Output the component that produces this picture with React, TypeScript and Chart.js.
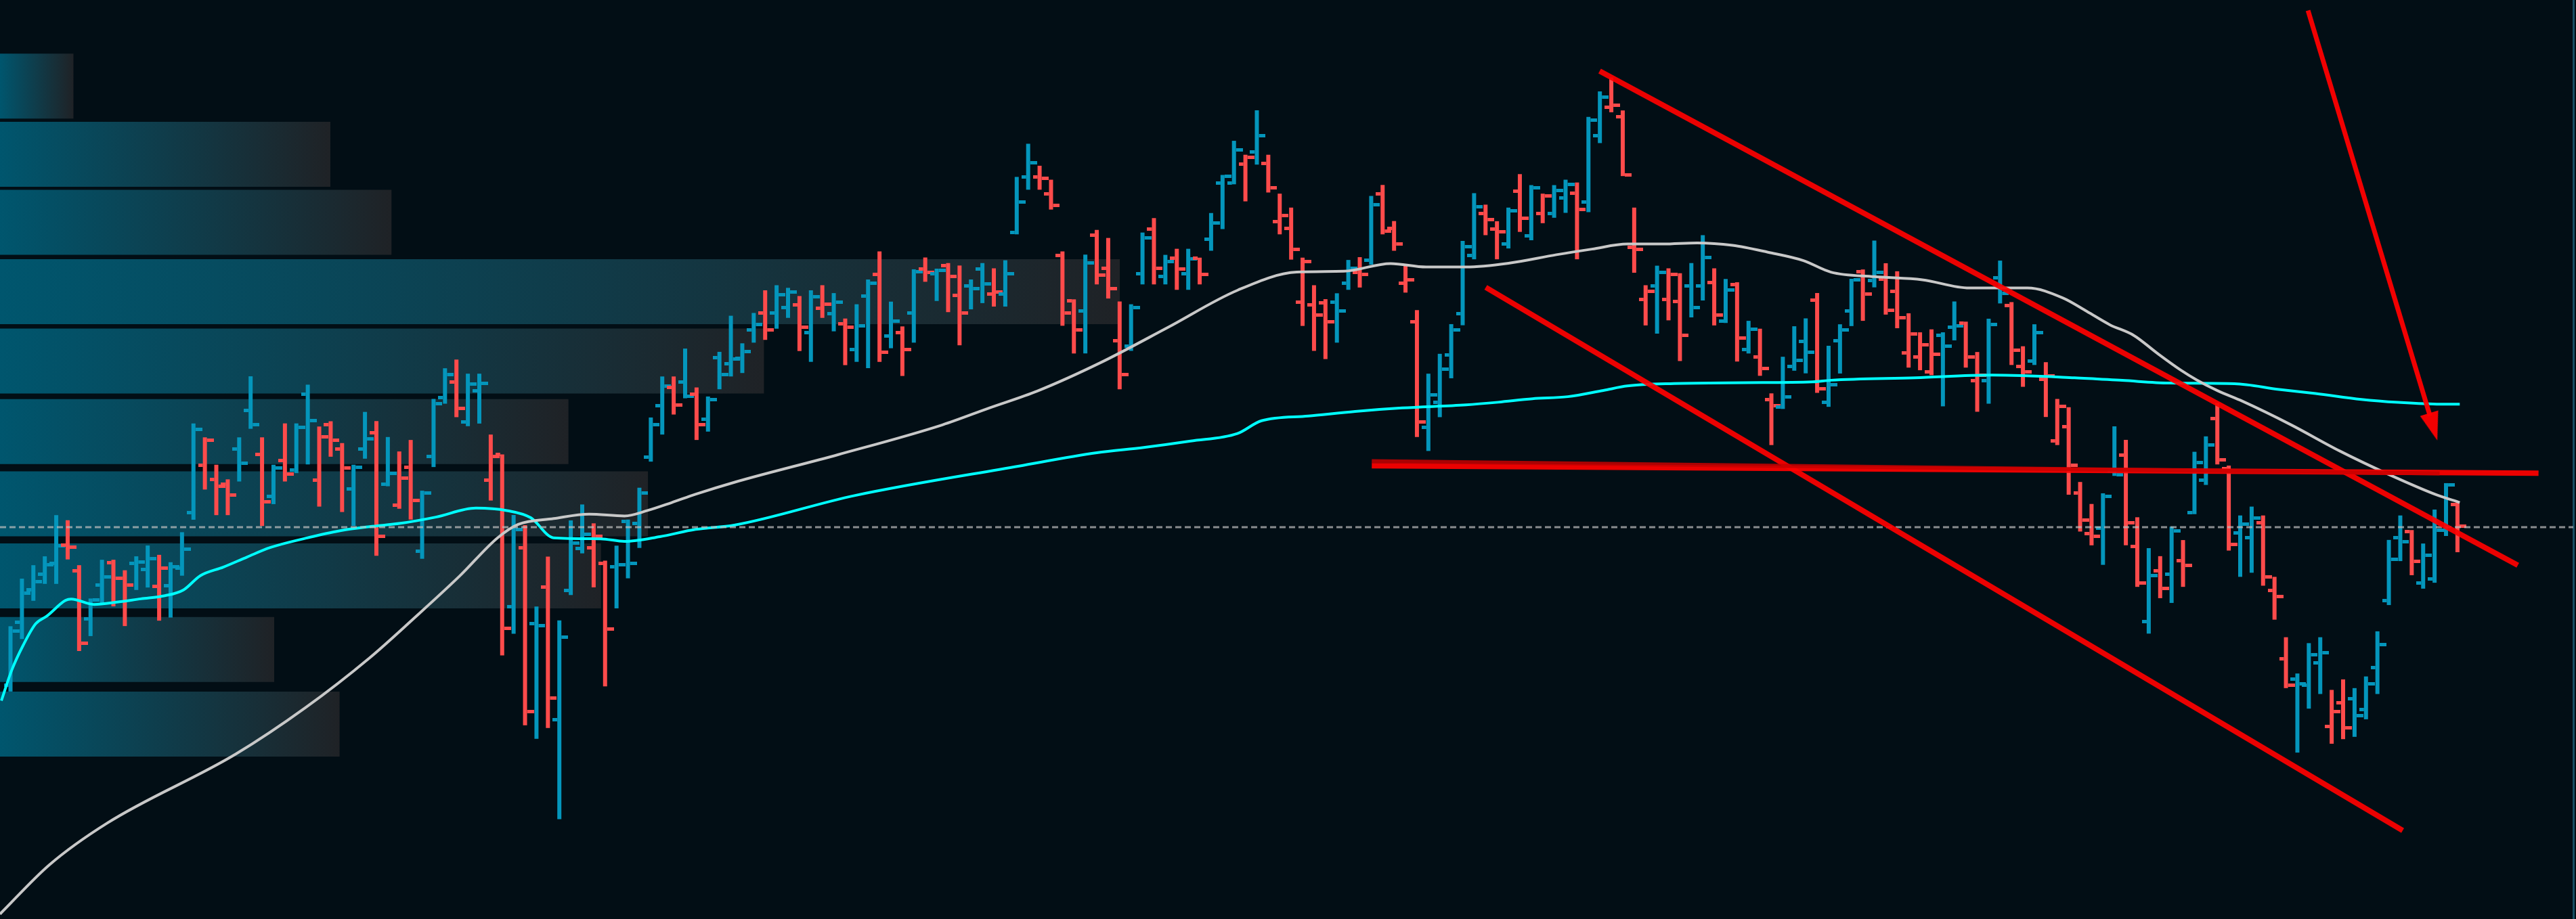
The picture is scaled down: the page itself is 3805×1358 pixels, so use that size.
import { useEffect, useRef } from 'react';
import { Chart, registerables } from 'chart.js';

Chart.register(...registerables);

// ---------- OHLC data (one bar per session) ----------
const opens = [142.4,180.9,200.8,210.1,216.6,227.8,212.2,182.9,203.7,217.0,
207.7,216.5,213.0,202.6,203.0,214.0,247.7,276.4,267.9,265.1,
286.3,310.1,283.0,257.5,279.3,273.6,319.9,267.3,301.4,286.3,
262.2,286.3,296.3,264.8,252.2,275.4,224.2,282.0,317.8,327.2,
303.0,321.7,267.6,283.0,190.4,226.1,180.0,202.1,121.3,200.3,
225.7,226.1,216.9,214.7,242.3,241.1,281.3,312.9,323.9,327.2,
320.0,304.5,342.0,338.3,341.6,358.8,369.1,369.1,372.5,374.2,
357.4,372.2,368.8,362.5,347.1,379.4,392.7,355.3,357.4,369.1,
395.9,393.1,398.2,380.1,385.6,395.9,380.7,380.7,418.2,452.2,
452.2,441.9,404.5,376.6,370.4,416.5,396.6,352.2,349.1,393.0,
420.3,391.6,402.6,393.0,402.5,414.3,448.4,448.4,460.2,467.5,
460.4,425.0,420.7,376.0,374.3,375.6,376.0,387.4,394.2,401.3,
442.0,420.7,387.4,364.0,299.4,314.7,343.7,368.9,404.3,429.9,
420.6,411.3,443.5,416.2,429.9,429.9,439.2,442.3,436.9,477.2,
494.7,488.8,409.4,377.5,385.7,377.6,376.4,385.7,385.7,387.7,
364.5,386.5,346.9,342.3,316.7,312.0,336.9,351.9,377.2,314.8,
352.3,370.6,394.3,389.0,389.8,382.4,345.0,342.5,333.6,355.6,
360.8,362.9,327.9,327.9,390.6,373.8,336.8,340.1,328.7,291.2,
300.2,259.4,235.0,238.2,273.3,282.6,227.2,181.2,212.2,210.2,
218.4,247.7,267.4,304.8,274.5,235.2,232.4,241.3,200.3,158.5,
146.0,142.4,156.0,117.5,131.7,134.2,127.5,153.1,194.2,232.4,
235.9,204.9,207.4,237.0,252.4];

const highs = [178.4,207.4,215.6,221.0,246.1,243.0,215.6,195.3,218.9,218.9,
212.5,221.0,227.6,221.9,217.4,235.7,302.0,293.5,276.8,267.9,
293.5,330.7,293.5,276.8,302.0,302.0,325.6,300.1,303.3,290.0,
276.8,309.0,303.4,293.7,284.9,291.9,261.0,316.9,335.6,340.9,
332.3,332.3,295.2,283.1,246.2,240.0,190.4,220.8,182.0,242.9,
252.6,241.1,218.4,227.5,243.4,262.8,305.6,330.6,330.6,347.6,
323.9,318.4,345.6,367.6,350.8,369.3,383.1,386.2,384.6,379.6,
383.1,386.2,381.4,365.9,374.6,389.7,406.8,376.2,361.1,395.9,
403.1,396.3,399.7,398.2,389.7,399.7,396.5,401.4,452.2,472.4,
459.0,450.5,406.8,377.6,404.8,419.9,415.0,376.3,374.6,418.3,
427.1,404.7,408.4,408.4,403.0,430.2,453.4,474.2,465.7,492.8,
465.7,442.0,433.5,403.0,386.2,377.7,381.3,401.6,403.3,440.6,
447.3,425.3,398.7,371.0,332.3,344.4,362.5,413.2,442.3,435.3,
425.2,433.5,453.9,447.2,442.0,447.2,450.5,448.8,488.8,504.3,
512.8,492.7,433.5,386.2,398.1,396.5,393.5,399.7,416.7,396.5,
390.0,388.0,364.5,359.7,320.3,342.6,361.2,366.0,381.4,349.3,
362.4,390.1,395.8,413.4,399.6,394.7,369.1,357.5,359.3,357.5,
376.3,364.0,345.5,365.8,401.2,375.9,349.0,362.4,339.3,316.9,
311.9,266.3,252.9,259.4,300.2,292.0,244.8,226.0,221.1,239.1,
230.9,284.7,294.1,314.5,276.3,245.9,251.3,245.9,208.5,171.7,
149.6,168.1,171.7,139.6,146.0,140.7,147.8,175.3,231.0,245.9,
237.0,228.8,249.5,265.6,253.8];

const lows = [138.6,170.6,193.9,204.2,204.2,219.1,163.3,172.4,192.6,190.5,
178.5,200.5,202.0,181.8,183.7,209.2,243.3,261.7,246.1,246.1,
266.6,298.7,239.5,252.8,266.6,271.7,277.0,251.3,281.7,248.0,
239.5,280.5,221.3,263.7,250.0,243.4,219.5,275.4,314.0,305.8,
300.3,301.9,255.0,160.6,173.8,118.0,109.8,116.4,60.8,197.4,
222.8,202.1,141.8,189.3,207.6,226.1,278.7,295.2,307.4,317.3,
291.9,297.0,322.8,330.6,332.7,351.2,352.9,359.7,366.3,346.1,
339.5,366.3,358.1,337.5,339.5,335.7,339.5,347.8,330.9,351.2,
388.3,376.6,369.8,349.6,371.5,375.3,373.2,373.2,417.2,444.4,
444.4,432.3,361.5,344.6,344.6,386.7,378.1,322.8,346.2,386.7,
386.7,386.7,383.4,383.4,386.7,407.2,420.4,447.7,437.3,459.7,
442.7,417.2,401.8,361.4,346.2,341.2,351.2,383.4,384.8,398.7,
417.2,407.2,381.7,293.7,285.2,305.8,329.5,361.8,402.0,416.7,
402.0,408.6,418.7,413.6,424.0,427.3,430.3,402.0,430.7,472.8,
491.6,452.7,393.8,361.7,356.7,364.8,340.0,366.6,376.9,361.7,
363.2,339.7,344.6,331.0,288.8,310.8,334.1,332.5,320.6,312.1,
332.4,361.3,364.5,384.9,368.3,360.0,336.0,334.4,331.4,312.4,
352.6,336.0,309.1,314.0,375.1,337.6,324.3,337.6,305.9,288.8,
258.6,236.1,227.7,215.8,270.0,227.7,202.4,173.9,195.5,192.6,
202.4,246.7,264.5,277.0,224.5,208.5,211.0,203.1,182.4,140.7,
101.4,128.2,137.1,106.8,109.6,111.0,121.7,137.1,191.3,218.1,
209.5,201.3,204.9,233.4,223.5];

const closes = [175.4,198.7,205.6,215.9,227.6,226.5,168.2,194.6,208.3,207.7,
203.7,217.5,219.5,214.0,214.5,225.3,298.2,291.6,263.6,258.4,
277.9,301.4,254.1,275.0,271.3,299.7,303.9,293.8,291.6,274.9,
275.2,292.5,233.0,271.6,268.7,255.1,259.5,314.0,331.7,311.1,
326.1,326.5,281.8,177.1,237.4,126.4,178.7,134.5,171.6,229.0,
234.5,233.4,176.5,215.8,216.9,259.5,301.2,324.6,313.3,318.4,
301.4,316.6,331.7,341.1,345.7,362.2,358.8,380.5,382.1,360.8,
379.0,374.6,375.9,360.8,361.5,387.6,345.5,364.3,347.1,394.5,
394.0,395.2,391.7,369.1,384.2,386.9,382.1,393.1,437.1,460.8,
451.2,435.0,369.1,358.8,399.6,392.4,384.2,331.7,372.5,415.0,
396.6,400.8,396.2,402.3,392.8,424.0,452.4,468.7,464.0,477.5,
445.5,428.5,407.9,400.8,368.2,364.0,370.6,396.6,392.8,435.3,
419.3,411.5,389.5,302.9,319.3,334.9,359.0,409.7,434.2,426.0,
418.7,431.4,427.1,445.4,440.7,443.8,447.7,432.2,486.9,500.7,
495.8,453.6,408.2,382.6,393.9,392.7,355.5,372.5,403.2,367.9,
383.1,353.9,359.3,335.3,312.8,318.3,340.3,345.4,322.9,325.4,
358.8,389.5,380.8,393.9,371.0,366.2,356.4,349.9,344.2,349.0,
361.3,342.5,331.4,362.4,381.3,346.6,333.6,357.5,331.1,312.4,
276.5,243.1,233.4,257.5,270.8,241.5,204.8,209.2,201.6,236.6,
215.4,278.1,288.8,279.8,228.1,240.6,244.2,208.5,196.7,142.4,
143.2,161.0,162.1,126.4,116.4,123.9,143.2,167.4,219.2,229.9,
218.1,221.7,237.0,264.5,239.5];

// ---------- moving averages (bar position, value) ----------
const slowMaX = [-0.92,3.4,8.45,19.7,25.8,31.4,35.2,39.3,42.6,44.4,47.5,50.6,53.7,55.7,57.8,59.9,63.3,72.4,81.5,85.6,
89.8,95.3,101.2,107.3,112.5,116.6,120.7,123.8,127.3,131.1,135.2,138.3,141.4,144.5,147.5,150.6,153.7,156.8,159.2,163.0,
167.2,171.3,176.4,179.5,181.6,183.6,185.7,187.7,189.8,191.2,193.0,195.2,199.4,203.7,208.0,212.2,214.2];
const slowMaY = [3,33,58.4,100.5,128.8,159.1,182.7,209.1,232.3,240.5,244.0,246.7,245.6,248.9,253.7,258.8,266.1,283.0,301.1,311.4,
321.7,338.9,360.4,383.1,394.2,394.7,399.4,397.3,397.3,399.7,404.8,408.2,411.3,411.3,412.0,410.5,406.3,401.2,394.2,391.4,
389.5,384.5,384.5,378.4,370.2,362.1,355.6,345.0,334.5,328.5,322.0,315.5,301.3,285.2,270.9,258.4,253.8];

const fastMaX = [-0.8,0.1,1.1,2.2,3.2,4.8,5.3,7.3,9.4,11.4,13.5,15.1,16.6,18.6,20.7,22.7,25.8,28.9,31.4,34.1,
37.2,40.7,43.4,45.5,47.5,51.6,53.7,56.8,59.9,63.3,73.8,88.2,95.0,99.1,103.2,107.3,109.4,113.5,117.6,121.7,
127.3,130.1,133.1,136.2,139.3,141.4,145.5,151.6,157.6,159.2,166.6,173.3,180.5,184.7,188.8,194.5,198.4,201.6,205.6,208.8,
212.5,214.2];
const fastMaY = [133,151.5,166.7,179.9,184.7,194.1,195.0,191.7,193.2,195.1,197.0,200.4,209.2,214.4,220.6,226.3,232.0,236.7,239.1,241.1,
244.9,250.4,248.9,244.5,232.3,231.7,230.1,233.0,237.4,240.0,258,276,284.1,287.3,291.2,295.8,303.6,306.5,309.3,311.4,
313.3,314.9,317.0,318.3,322.1,324.8,326.3,326.8,327.3,328.3,329.8,331.4,329.8,328.2,326.6,326.2,322.7,320.2,316.6,314.8,
313.7,313.7];

// ---------- volume profile ----------
const profilePrices = [507.5,466.0,424.5,382.3,340.0,297.0,253.0,209.1,164.2,118.8];
const profileVolumes = [44.7,201.1,238.3,681.6,465.0,346.0,394.4,365.8,166.9,206.7];

// ---------- drawn annotations ----------
const lastPrice = 238.8;
const upperChannelX = [138.98, 219.28];
const upperChannelY = [516.7, 215.6];
const lowerChannelX = [129.02, 209.21];
const lowerChannelY = [384.9, 53.9];
const supportX = [119.05, 221.09];
const supportY = [276.2, 271.6];
const support2X = [119.05, 212.44];
const support2Y = [279.0, 271.5];
const arrowX = [200.93, 211.6];
const arrowY = [553.6, 306.6];
const arrowHeadX = 211.88;
const arrowHeadY = 299.9;

const X_MIN = -0.918;
const X_MAX = 224.13;
const VOL_MAX = 1566.3;

export default function App() {
  const ref = useRef<HTMLCanvasElement | null>(null);

  useEffect(() => {
    const canvas = ref.current;
    if (!canvas) return;
    const BLUE = '#0496bc';
    const RED = '#ff4b4b';
    const idx = closes.map((_, i) => i);
    const up = closes.map((c, i) => (i === 0 ? c >= opens[0] : c >= closes[i - 1]));
    const colors = up.map((u) => (u ? BLUE : RED));

    const makeTick = (color: string, side: 'open' | 'close') => {
      const body = 6;
      const len = side === 'open' ? 7 : 10;
      const th = 5;
      const c = document.createElement('canvas');
      c.width = 2 * (body / 2 + len);
      c.height = th;
      const g = c.getContext('2d')!;
      g.fillStyle = color;
      if (side === 'open') g.fillRect(0, 0, len, th);
      else g.fillRect(c.width - len, 0, len, th);
      return c;
    };
    const openBlue = makeTick(BLUE, 'open');
    const openRed = makeTick(RED, 'open');
    const closeBlue = makeTick(BLUE, 'close');
    const closeRed = makeTick(RED, 'close');

    const head = document.createElement('canvas');
    head.width = 28;
    head.height = 42;
    {
      const g = head.getContext('2d')!;
      g.fillStyle = 'rgba(255,0,0,0.95)';
      g.beginPath();
      g.moveTo(14, 0);
      g.lineTo(28, 42);
      g.lineTo(0, 42);
      g.closePath();
      g.fill();
    }

    const pts = (xs: number[], ys: number[]) => xs.map((x, k) => ({ x, y: ys[k] }));
    const redLine = (xs: number[], ys: number[], w: number, color: string) => ({
      type: 'line' as const,
      data: pts(xs, ys),
      borderColor: color,
      borderWidth: w,
      pointRadius: 0,
      borderCapStyle: 'butt' as const,
      xAxisID: 'x',
      yAxisID: 'y',
      order: 1,
    });

    const profileFill = (c: any) => {
      const ch = c.chart;
      const fallback = 'rgb(10,62,78)';
      if (c.type !== 'data' || !c.raw) return fallback;
      const sc = ch.scales ? ch.scales.xVol : null;
      let x0 = sc ? sc.getPixelForValue(0) : NaN;
      let x1 = sc ? sc.getPixelForValue(c.raw.x) : NaN;
      if (!Number.isFinite(x0) || !Number.isFinite(x1)) {
        const area = ch.chartArea;
        if (!area) return fallback;
        x0 = area.left;
        x1 = area.left + (c.raw.x / VOL_MAX) * (area.right - area.left);
        if (!Number.isFinite(x0) || !Number.isFinite(x1)) return fallback;
      }
      const g = ch.ctx.createLinearGradient(x0, 0, Math.max(x1, x0 + 1), 0);
      g.addColorStop(0, 'rgb(0,86,110)');
      g.addColorStop(1, 'rgb(31,34,38)');
      return g;
    };

    const chart = new Chart(canvas, {
      type: 'line',
      data: {
        datasets: [
          {
            type: 'bar',
            indexAxis: 'y',
            data: profilePrices.map((p, k) => ({ x: profileVolumes[k], y: p })),
            xAxisID: 'xVol',
            yAxisID: 'yVol',
            grouped: false,
            barThickness: 96,
            maxBarThickness: 96,
            borderWidth: 0,
            inflateAmount: 0,
            order: 10,
            backgroundColor: profileFill,
          } as any,
          {
            type: 'bar',
            data: idx.map((i) => ({ x: i, y: [lows[i], highs[i]] })),
            backgroundColor: colors,
            grouped: false,
            barThickness: 6,
            maxBarThickness: 6,
            borderWidth: 0,
            inflateAmount: 0,
            borderSkipped: false,
            xAxisID: 'x',
            yAxisID: 'y',
            order: 6,
          } as any,
          {
            type: 'scatter',
            data: idx.map((i) => ({ x: i, y: opens[i] })),
            pointStyle: up.map((u) => (u ? openBlue : openRed)),
            pointRadius: 3,
            xAxisID: 'x',
            yAxisID: 'y',
            order: 5,
          } as any,
          {
            type: 'scatter',
            data: idx.map((i) => ({ x: i, y: closes[i] })),
            pointStyle: up.map((u) => (u ? closeBlue : closeRed)),
            pointRadius: 3,
            xAxisID: 'x',
            yAxisID: 'y',
            order: 5,
          } as any,
          {
            type: 'line',
            data: pts(slowMaX, slowMaY),
            borderColor: '#c8c8c8',
            borderWidth: 4,
            pointRadius: 0,
            cubicInterpolationMode: 'monotone',
            xAxisID: 'x',
            yAxisID: 'y',
            order: 3,
          } as any,
          {
            type: 'line',
            data: pts(fastMaX, fastMaY),
            borderColor: '#00ffff',
            borderWidth: 4,
            pointRadius: 0,
            cubicInterpolationMode: 'monotone',
            xAxisID: 'x',
            yAxisID: 'y',
            order: 3,
          } as any,
          {
            type: 'line',
            data: [
              { x: X_MIN, y: lastPrice },
              { x: X_MAX, y: lastPrice },
            ],
            borderColor: 'rgba(190,190,190,0.72)',
            borderWidth: 3,
            borderDash: [9, 5],
            pointRadius: 0,
            xAxisID: 'x',
            yAxisID: 'y',
            order: 2,
          } as any,
          redLine(support2X, support2Y, 6, 'rgba(200,0,0,0.85)') as any,
          redLine(supportX, supportY, 8, 'rgba(255,0,0,0.92)') as any,
          redLine(upperChannelX, upperChannelY, 8, 'rgba(255,0,0,0.92)') as any,
          redLine(lowerChannelX, lowerChannelY, 8, 'rgba(255,0,0,0.92)') as any,
          redLine(arrowX, arrowY, 7, 'rgba(255,0,0,0.95)') as any,
          {
            type: 'scatter',
            data: [{ x: arrowHeadX, y: arrowHeadY }],
            pointStyle: head,
            rotation: 163.3,
            pointRadius: 5,
            xAxisID: 'x',
            yAxisID: 'y',
            order: 0,
          } as any,
        ],
      },
      options: {
        responsive: false,
        animation: false,
        devicePixelRatio: 1,
        events: [],
        layout: { autoPadding: false, padding: { left: 0, top: 0, bottom: 0, right: 4 } },
        plugins: { legend: { display: false }, tooltip: { enabled: false } },
        scales: {
          x: { type: 'linear', min: X_MIN, max: X_MAX, display: false, offset: false },
          y: {
            type: 'linear',
            min: 0,
            max: 560,
            position: 'right',
            offset: false,
            grid: { display: false, drawTicks: false },
            ticks: { display: false },
            border: { display: true, color: '#164e62', width: 3 },
          },
          xVol: { type: 'linear', axis: 'x', position: 'bottom', min: 0, max: VOL_MAX, display: false, offset: false },
          yVol: { type: 'linear', axis: 'y', position: 'left', min: 0, max: 560, display: false, offset: false },
        } as any,
      },
    });
    chart.update();
    return () => chart.destroy();
  }, []);

  return (
    <div
      style={{
        position: 'fixed',
        left: 0,
        top: 0,
        width: 3805,
        height: 1358,
        background: '#020e15',
        overflow: 'hidden',
      }}
    >
      <canvas ref={ref} width={3805} height={1358} style={{ display: 'block' }} />
    </div>
  );
}
